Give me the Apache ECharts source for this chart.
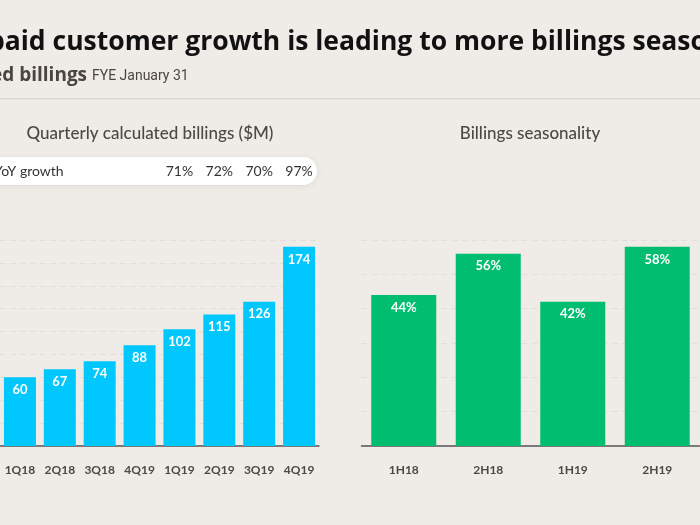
<!DOCTYPE html>
<html><head><meta charset="utf-8">
<script src="https://cdn.jsdelivr.net/npm/echarts@6/dist/echarts.min.js"></script>
<style>html,body{margin:0;padding:0;background:#efebe7;}#c{width:700px;height:525px;}</style>
</head><body><div id="c"></div>
<script>
const quarters = ['1Q18','2Q18','3Q18','4Q19','1Q19','2Q19','3Q19','4Q19'];
const billings = [60, 67, 74, 88, 102, 115, 126, 174];
const yoyGrowth = ['', '', '', '', '71%', '72%', '70%', '97%'];
const halves = ['1H18','2H18','1H19','2H19'];
const seasonality = [44, 56, 42, 58];

const bg = '#efebe7';
const chart = echarts.init(document.getElementById('c'), null, {renderer:'canvas'});
const axisLabelStyle = {color:'#4a4a45', fontSize:12, fontFamily:'Lato', fontWeight:'bold', margin:18};
const gridLine = {show:true, lineStyle:{color:'#e2ded9', type:[6,4], width:1}};
chart.setOption({
  backgroundColor: bg,
  animation:false,
  graphic:[
    {type:'text', left:-12, top:29, style:{text:'paid customer growth is leading to more billings seasonality', font:'bold 26.5px "Open Sans"', fill:'#111'}},
    {type:'text', left:-9, top:66, style:{text:'ed billings', font:'bold 19px "Open Sans"', fill:'#4a463f'}},
    {type:'text', left:92, top:69, style:{text:'FYE January 31', font:'14px Roboto', fill:'#4a463f'}},
    {type:'rect', shape:{x:0,y:98,width:700,height:1.5}, style:{fill:'#dcd7d1'}},
    {type:'text', x:150, y:134, style:{text:'Quarterly calculated billings ($M)', font:'500 17px Lato', fill:'#4a4a45', textAlign:'center', textVerticalAlign:'middle'}},
    {type:'text', x:530, y:134, style:{text:'Billings seasonality', font:'500 17px Lato', fill:'#4a4a45', textAlign:'center', textVerticalAlign:'middle'}},
    {type:'rect', z:-1, shape:{x:-40,y:157,width:357,height:28,r:14}, style:{fill:'#ffffff', shadowBlur:6, shadowColor:'rgba(0,0,0,0.08)', shadowOffsetY:1}},
    {type:'text', x:-6, y:171, style:{text:'YoY growth', font:'14px Lato', fill:'#333', textVerticalAlign:'middle'}}
  ],
  grid:[
    {left:-18.6, right:381, top:240, bottom:79},
    {left:361.5, right:0.5, top:240, bottom:79}
  ],
  xAxis:[
    {type:'category', gridIndex:0, data:quarters, axisLine:{lineStyle:{color:'#555',width:1.5}}, axisTick:{show:false}, axisLabel:axisLabelStyle},
    {type:'category', gridIndex:1, data:halves, axisLine:{lineStyle:{color:'#555',width:1.5}}, axisTick:{show:false}, axisLabel:axisLabelStyle},
    {type:'category', gridIndex:0, position:'top', data:yoyGrowth, offset:69, axisLine:{show:false}, axisTick:{show:false},
     axisLabel:{color:'#333', fontSize:14, fontFamily:'Lato', margin:0, verticalAlign:'middle'}}
  ],
  yAxis:[
    {type:'value', gridIndex:0, min:0, max:180, interval:20, axisLabel:{show:false}, axisLine:{show:false}, axisTick:{show:false}, splitLine:gridLine},
    {type:'value', gridIndex:1, min:0, max:60, interval:10, axisLabel:{show:false}, axisLine:{show:false}, axisTick:{show:false}, splitLine:gridLine}
  ],
  series:[
    {type:'bar', xAxisIndex:0, yAxisIndex:0, data:billings, barWidth:32, itemStyle:{color:'#00c8ff'},
     label:{show:true, position:'insideTop', distance:6, color:'#fff', fontSize:13, fontWeight:'bold', fontFamily:'Lato'}},
    {type:'bar', xAxisIndex:1, yAxisIndex:1, data:seasonality, barWidth:65, itemStyle:{color:'#00bd70'},
     label:{show:true, position:'insideTop', distance:6, color:'#fff', fontSize:13, fontWeight:'bold', fontFamily:'Lato', formatter:'{c}%'}}
  ]
});
</script></body></html>
